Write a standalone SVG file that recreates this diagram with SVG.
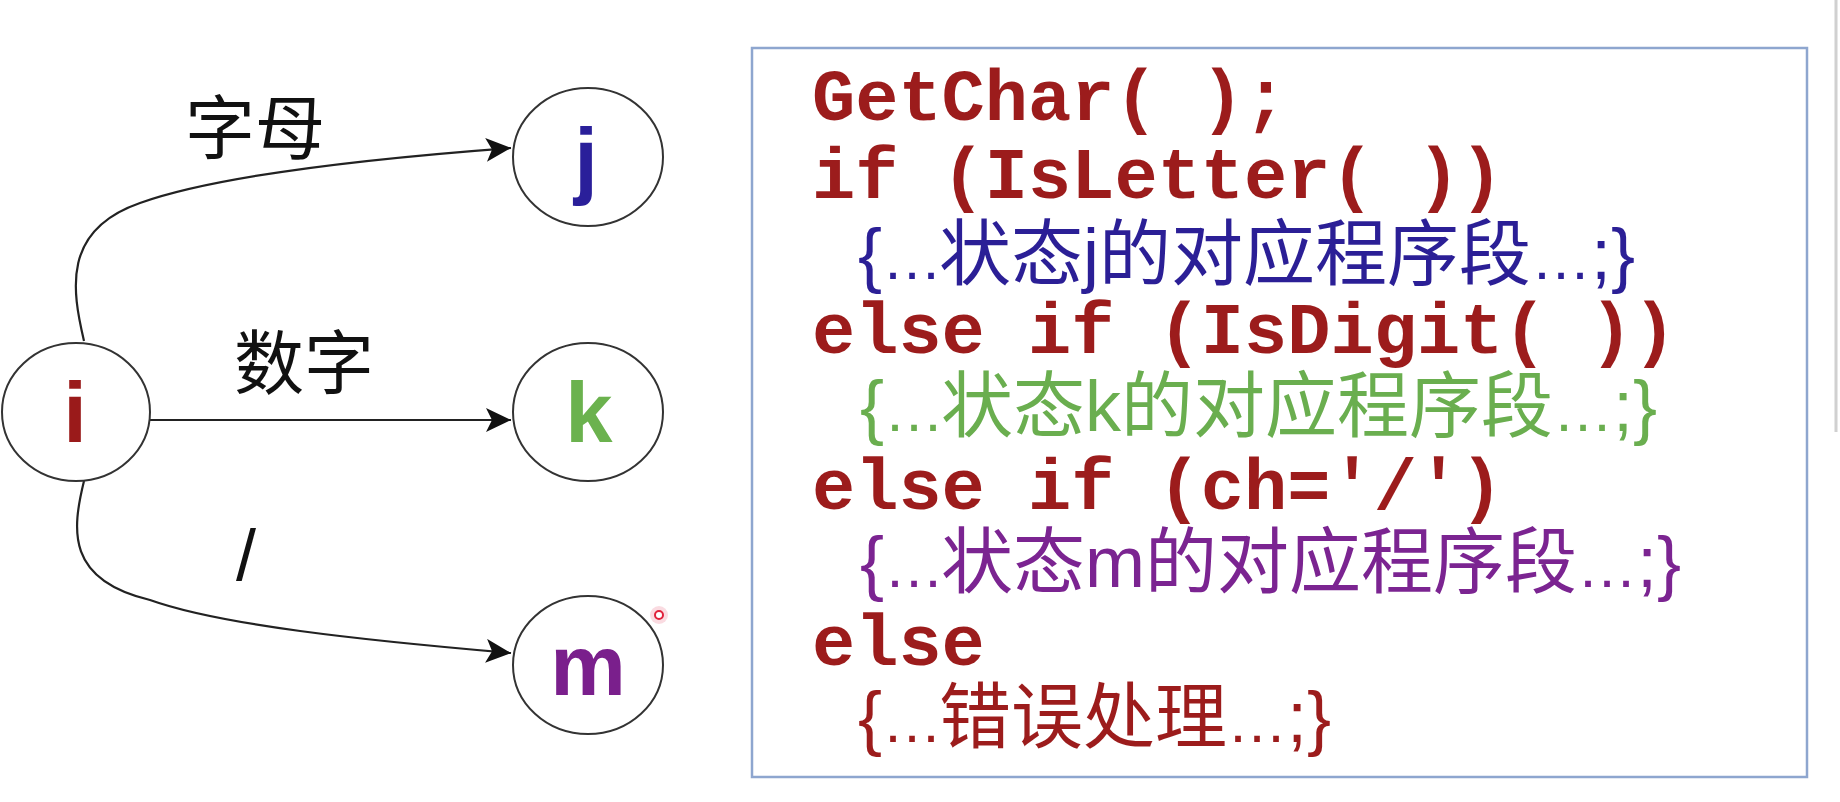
<svg xmlns="http://www.w3.org/2000/svg" width="1840" height="802" viewBox="0 0 1840 802">
<defs>
<marker id="arr" markerUnits="userSpaceOnUse" markerWidth="26" markerHeight="24" refX="25" refY="12" orient="auto">
<path d="M0,0 L25,12 L0,24 L6,12 z" fill="#111"/>
</marker>
<style>
.node{fill:#fff;stroke:#333;stroke-width:2}
.nl{font-family:"Liberation Sans",Arial,sans-serif;font-weight:bold;font-size:85px;text-anchor:middle}
.edge{fill:none;stroke:#222;stroke-width:2.2}
.el{font-family:"Noto Sans CJK SC","Liberation Sans",sans-serif;font-size:70px;fill:#111}
.code{font-family:"Liberation Mono","Courier New",monospace;font-weight:bold;font-size:72px;fill:#9c1c1c}
.zh{font-family:"Liberation Sans","Noto Sans CJK SC",sans-serif;font-size:72px}
.ell{font-size:60px}
</style>
</defs>
<rect width="1840" height="802" fill="#fff"/>
<line x1="1836" y1="0" x2="1836" y2="432" stroke="#d0d0d0" stroke-width="3"/>
<g id="connectors">
<path class="edge" d="M84,341 C72,290 62,230 140,203 C210,178 350,160 511,148" marker-end="url(#arr)"/>
<line class="edge" x1="150" y1="420" x2="511" y2="420" marker-end="url(#arr)"/>
<path class="edge" d="M84,481 C72,530 66,580 150,600 C220,625 360,640 511,653" marker-end="url(#arr)"/>
<text class="el" x="185" y="154">字母</text>
<text class="el" x="234" y="389">数字</text>
<text x="236" y="580" style="font-family:'Liberation Sans',sans-serif;font-size:72px;fill:#111">/</text>
</g>
<g id="node-i">
<ellipse class="node" cx="76" cy="412" rx="74" ry="69"/>
<text class="nl" x="75" y="442" fill="#9a1a1a">i</text>
</g>
<g id="node-j">
<ellipse class="node" cx="588" cy="157" rx="75" ry="69"/>
<text class="nl" x="586" y="188" fill="#2a1f9a">j</text>
</g>
<g id="node-k">
<ellipse class="node" cx="588" cy="412" rx="75" ry="69"/>
<text class="nl" x="589" y="442" fill="#6bb24e">k</text>
</g>
<g id="node-m">
<ellipse class="node" cx="588" cy="665" rx="75" ry="69"/>
<text class="nl" x="588" y="695" fill="#7a1f8c">m</text>
</g>
<g id="cursor">
<circle cx="659" cy="615" r="9" fill="#f6b8c4" opacity="0.5"/>
<circle cx="659" cy="615" r="4" fill="#fff" stroke="#e0203a" stroke-width="2"/>
</g>
<g id="code-box">
<rect x="752" y="48" width="1055" height="729" fill="#fff" stroke="#8ea6cf" stroke-width="2.5"/>
<text class="code" x="812" y="120">GetChar( );</text>
<text class="code" x="812" y="198">if (IsLetter( ))</text>
<text class="zh" x="858" y="279" fill="#2b1f96">{<tspan class="ell">…</tspan><tspan dx="-3">状态j的对应程序段</tspan><tspan class="ell">…</tspan>;}</text>
<text class="code" x="812" y="353">else if (IsDigit( ))</text>
<text class="zh" x="860" y="431" fill="#6aae4f">{<tspan class="ell">…</tspan><tspan dx="-3">状态k的对应程序段</tspan><tspan class="ell">…</tspan>;}</text>
<text class="code" x="812" y="509">else if (ch='/')</text>
<text class="zh" x="860" y="587" fill="#7b2491">{<tspan class="ell">…</tspan><tspan dx="-3">状态m的对应程序段</tspan><tspan class="ell">…</tspan>;}</text>
<text class="code" x="812" y="665">else</text>
<text class="zh" x="858" y="742" fill="#9c1c1c">{<tspan class="ell">…</tspan><tspan dx="-3">错误处理</tspan><tspan class="ell">…</tspan>;}</text>
</g>
</svg>
